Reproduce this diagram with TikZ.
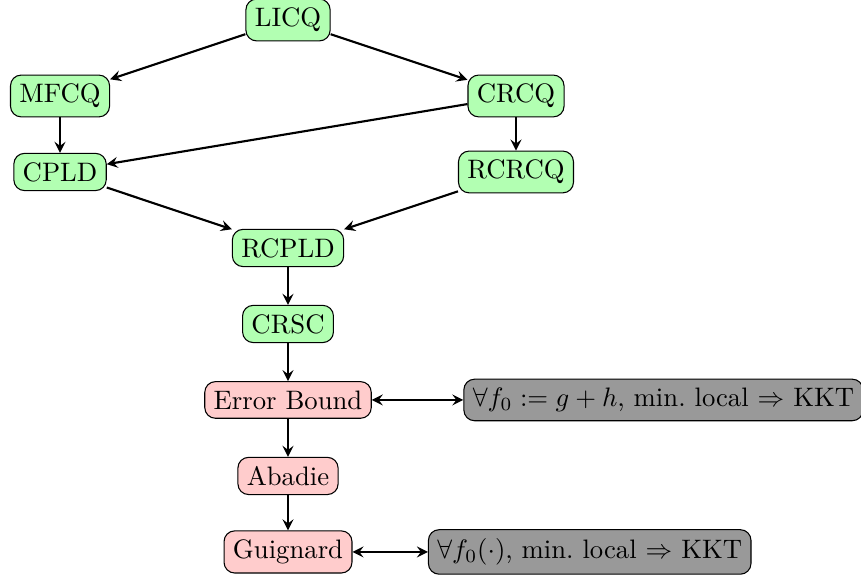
\documentclass[tikz,border=0pt]{standalone}
\usepackage{amssymb}

\tikzset{
  cq/.style={draw,rounded corners,fill=green!30},
  weak/.style={draw,rounded corners,fill=red!20},
  kkt/.style={draw,rounded corners,fill=gray!80}
}

\begin{document}
\begin{tikzpicture}[>=stealth]

        \useasboundingbox (-3.79,0.263) rectangle (7.54,-7.41);

        \begin{scope}[every node/.style={cq}]
          \node (licq)  at (0,0)   {LICQ};
          \node (mfcq)  at (-3,-1) {MFCQ};
          \node (crcq)  at (3,-1)  {CRCQ};
          \node (cpld)  at (-3,-2) {CPLD};
          \node (rcrcq) at (3,-2)  {RCRCQ};
          \node (rcpld) at (0,-3)  {RCPLD};
          \node (crsc)  at (0,-4)  {CRSC};
        \end{scope}

        \begin{scope}[every node/.style={weak}]
          \node (eb)   at (0,-5) {Error Bound};
          \node (abad) at (0,-6) {Abadie};
          \node (guig) at (0,-7) {Guignard};
        \end{scope}

        \begin{scope}[every node/.style={kkt}]
          \node (kkt1) at (4.94,-5) {$\forall f_0 := g+h$, min.\ local $\Rightarrow$ KKT};
          \node (kkt2) at (3.97,-7) {$\forall f_0(\cdot)$, min.\ local $\Rightarrow$ KKT};
        \end{scope}

        \begin{scope}[every edge/.style={draw,thick,->}]
          \path (licq)  edge (mfcq);
          \path (licq)  edge (crcq);
          \path (mfcq)  edge (cpld);
          \path (crcq)  edge (cpld);
          \path (crcq)  edge (rcrcq);
          \path (cpld)  edge (rcpld);
          \path (rcrcq) edge (rcpld);
          \path (rcpld) edge (crsc);
          \path (crsc)  edge (eb);
          \path (eb)    edge (abad);
          \path (abad)  edge (guig);
        \end{scope}

        \begin{scope}[every edge/.style={draw,thick,<->}]
          \path (eb)   edge (kkt1);
          \path (guig) edge (kkt2);
        \end{scope}

      \end{tikzpicture}
\end{document}
